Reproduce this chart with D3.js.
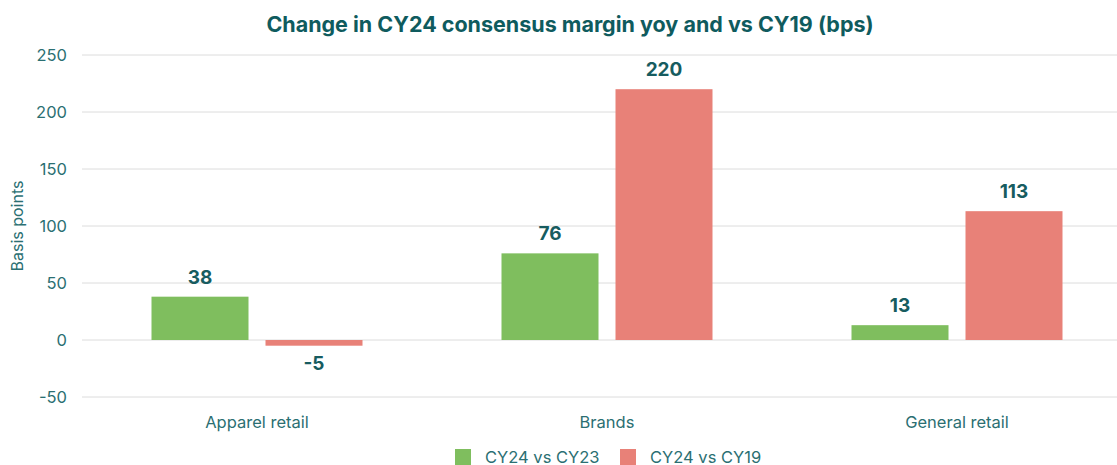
<!DOCTYPE html>
<html>
<head>
<meta charset="utf-8">
<script src="https://cdn.jsdelivr.net/npm/d3@7"></script>
<style>
  body { margin: 0; background: #fff; }
  text { font-family: Inter, "Noto Sans", sans-serif; }
</style>
</head>
<body>
<svg id="chart" width="1117" height="465"></svg>
<script>
// chart data
var categories = ["Apparel retail", "Brands", "General retail"];
var seriesNames = ["CY24 vs CY23", "CY24 vs CY19"];
var yoyValues = [38, 76, 13];
var cy19Values = [-5, 220, 113];
var yTicks = [-50, 0, 50, 100, 150, 200, 250];
var colors = ["#7fbe5e", "#e88178"];

(function () {
var svg = d3.select("#chart");
var plotL = 82, plotR = 1132, plotT = 55, plotB = 397;

var x = d3.scaleBand().domain(categories).range([plotL, plotR]);
var y = d3.scaleLinear().domain([-50, 250]).range([plotB, plotT]);
var barW = 97, gap = 17;
var textCol = "#2b6f72";

// gridlines
svg.append("g").selectAll("line").data(yTicks).join("line")
    .attr("x1", plotL).attr("x2", 1117)
    .attr("y1", d => y(d)).attr("y2", d => y(d))
    .attr("stroke", "#dcdcdc").attr("stroke-width", 1);

// y tick labels
svg.append("g").selectAll("text").data(yTicks).join("text")
    .attr("x", 67).attr("y", d => y(d)).attr("dy", "0.35em")
    .attr("text-anchor", "end")
    .attr("font-size", 16.5).attr("fill", textCol)
    .text(d => d);

// y axis title
svg.append("text")
    .attr("transform", "translate(23," + y(100) + ") rotate(-90)")
    .attr("text-anchor", "middle")
    .attr("font-size", 16).attr("fill", textCol)
    .text("Basis points");

// x category labels
svg.append("g").selectAll("text").data(categories).join("text")
    .attr("x", d => x(d) + x.bandwidth() / 2).attr("y", 428)
    .attr("text-anchor", "middle")
    .attr("font-size", 16.5).attr("fill", textCol)
    .text(d => d);

var series = [yoyValues, cy19Values];
series.forEach(function (vals, si) {
    var off = si === 0 ? -(barW + gap / 2) : gap / 2;
    var g = svg.append("g");
    g.selectAll("rect").data(vals).join("rect")
        .attr("x", (d, i) => x(categories[i]) + x.bandwidth() / 2 + off)
        .attr("y", d => y(Math.max(0, d)))
        .attr("width", barW)
        .attr("height", d => Math.abs(y(d) - y(0)))
        .attr("fill", colors[si]);
    g.selectAll("text").data(vals).join("text")
        .attr("x", (d, i) => x(categories[i]) + x.bandwidth() / 2 + off + barW / 2)
        .attr("y", d => d >= 0 ? y(d) - 13 : y(d) + 24)
        .attr("text-anchor", "middle")
        .attr("font-size", 19).attr("font-weight", "bold").attr("fill", "#175c60")
        .text(d => d);
});

// title
svg.append("text")
    .attr("x", 570).attr("y", 32)
    .attr("text-anchor", "middle")
    .attr("font-size", 21.5).attr("font-weight", "bold").attr("fill", "#0f5b5e")
    .text("Change in CY24 consensus margin yoy and vs CY19 (bps)");

// legend
var legX = [455, 620];
var leg = svg.append("g").selectAll("g").data(seriesNames).join("g")
    .attr("transform", (d, i) => "translate(" + legX[i] + ",449)");
leg.append("rect").attr("width", 16).attr("height", 16).attr("y", 0)
    .attr("fill", (d, i) => colors[i]);
leg.append("text").attr("x", 30).attr("y", 8).attr("dy", "0.35em")
    .attr("font-size", 16.5).attr("fill", textCol)
    .text(d => d);
})();
</script>
</body>
</html>
